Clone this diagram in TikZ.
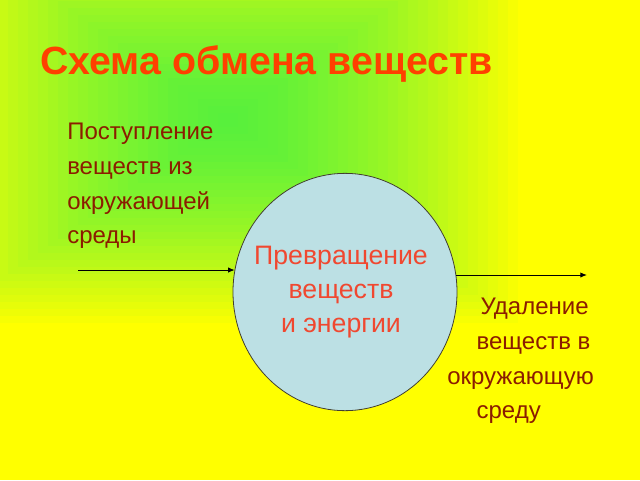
\documentclass[tikz,border=0pt]{standalone}
\usepackage{fontspec}
\setmainfont{Liberation Sans}
\usetikzlibrary{shapes.geometric,arrows.meta}
\definecolor{bgYellow}{RGB}{255,255,0}
\definecolor{bgGreen}{RGB}{88,240,60}
\definecolor{titleRed}{RGB}{255,64,0}
\definecolor{textBrown}{RGB}{139,28,0}
\definecolor{innerRed}{RGB}{240,72,48}
\definecolor{cellBlue}{RGB}{188,224,228}
\tikzset{
  bodytext/.style={anchor=north west, inner sep=0pt, align=left, text=textBrown,
    font=\fontsize{18}{26}\selectfont},
  flow/.style={line width=0.75pt, -{Latex[length=5pt,width=4pt]}}
}
\begin{document}
\begin{tikzpicture}[x=0.75pt, y=-0.75pt]
    \useasboundingbox (0,0) rectangle (640,480);
    %------------Fondo----------
    \fill[bgYellow] (0,0) rectangle (640,480);
    \foreach \i in {0,...,29} {
        \pgfmathsetmacro\t{1-\i/30}
        \pgfmathtruncatemacro\p{100*\t^1.5}
        \fill[bgYellow!\p!bgGreen] (228-300*\t,120-210*\t) rectangle (228+300*\t,120+210*\t);
    }
    %------------Titulo----------
    \node[anchor=base west, inner sep=0pt, text=titleRed, font=\fontsize{29.5}{34}\selectfont\bfseries]
        (title) at (40,74) {Схема обмена веществ};
    %------------Textos----------
    \node[bodytext] (intake) at (67,123) {Поступление\\веществ из\\окружающей\\среды};
    \node[bodytext] (removal) at (447,298)
        {\hspace*{25pt}Удаление\\\hspace*{22pt}веществ в\\окружающую\\\hspace*{22pt}среду};
    %------------Elipse----------
    \node[ellipse, draw=black!70!olive, line width=0.6pt, fill=cellBlue, inner sep=0pt,
        minimum width=168pt, minimum height=178pt] (process) at (345,292) {};
    \node[align=center, inner sep=0pt, text=innerRed, font=\fontsize{20}{25.5}\selectfont]
        (processText) at (341,292) {Превращение\\веществ\\и энергии};
    %------------Flechas----------
    \coordinate (inStart) at (78,270);
    \coordinate (outEnd) at (587,275);
    \draw[flow] (inStart) -- (inStart -| process.168.7);
    \draw[flow] (process.8.7 |- outEnd) -- (outEnd);
\end{tikzpicture}
\end{document}
